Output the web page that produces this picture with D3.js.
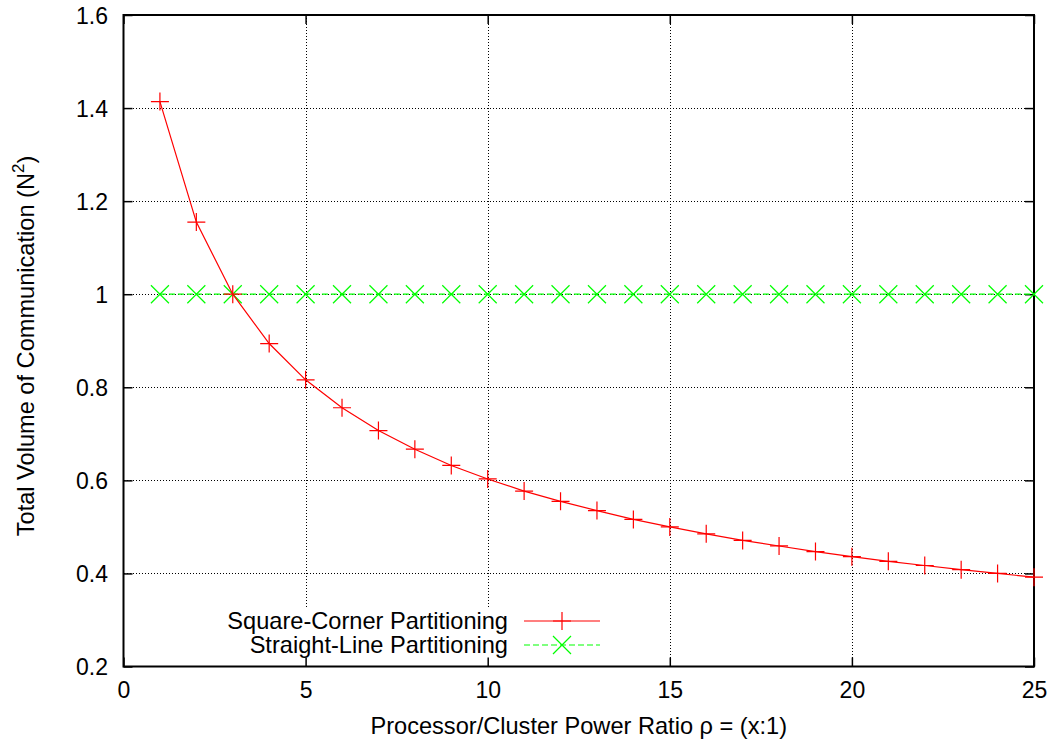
<!DOCTYPE html>
<html>
<head>
<meta charset="utf-8">
<script src="https://cdn.jsdelivr.net/npm/d3@7"></script>
<style>
  html, body { margin: 0; padding: 0; background: #fff; }
  svg { display: block; }
  text { font-family: "Liberation Sans", Arial, Helvetica, sans-serif; fill: #000; }
</style>
</head>
<body>
<svg id="chart" width="1055" height="741"></svg>
<script>
// Processor/cluster power ratio values (x axis)
const ratios = [1, 2, 3, 4, 5, 6, 7, 8, 9, 10, 11, 12, 13, 14, 15, 16, 17, 18, 19, 20, 21, 22, 23, 24, 25];
// Total volume of communication, square-corner partitioning
const squareCorner = [1.414, 1.155, 1.0, 0.894, 0.816, 0.756, 0.707, 0.667, 0.632, 0.603, 0.577, 0.555, 0.535, 0.516, 0.5, 0.485, 0.471, 0.459, 0.447, 0.436, 0.426, 0.417, 0.408, 0.4, 0.392];
// Total volume of communication, straight-line partitioning
const straightLine = [1, 1, 1, 1, 1, 1, 1, 1, 1, 1, 1, 1, 1, 1, 1, 1, 1, 1, 1, 1, 1, 1, 1, 1, 1];
// Axis ticks
const xTicks = [0, 5, 10, 15, 20, 25];
const yTicks = [0.2, 0.4, 0.6, 0.8, 1.0, 1.2, 1.4, 1.6];
const seriesNames = ["Square-Corner Partitioning", "Straight-Line Partitioning"];

const svg = d3.select("#chart");
const pL = 123.5, pR = 1034, pT = 15, pB = 666.5;
const fs = 23;
const fsLabel = 23.6;

const x = d3.scaleLinear().domain([0, 25]).range([pL, pR]);
const y = d3.scaleLinear().domain([0.2, 1.6]).range([pB, pT]);

svg.append("rect").attr("width", 1055).attr("height", 741).attr("fill", "#fff");

// Dotted grid
const grid = svg.append("g").attr("stroke", "#000").attr("stroke-width", 1)
  .attr("stroke-dasharray", "1,2").attr("shape-rendering", "crispEdges");
xTicks.filter(d => d > 0 && d < 25).forEach(d => {
  grid.append("line").attr("x1", Math.round(x(d)) + 0.5).attr("x2", Math.round(x(d)) + 0.5)
    .attr("y1", pB).attr("y2", pT);
});
yTicks.filter(d => d > 0.2 && d < 1.6).forEach(d => {
  grid.append("line").attr("y1", Math.round(y(d)) + 0.5).attr("y2", Math.round(y(d)) + 0.5)
    .attr("x1", pL).attr("x2", pR);
});

// Key background blanks the grid behind it
svg.append("rect").attr("x", 215).attr("y", 608).attr("width", 395).attr("height", pB - 608)
  .attr("fill", "#fff");

// Axes with inward ticks, mirrored on top and right
const tickLen = 9;
const fmt = d => (d === 1 ? "1" : d3.format(".1f")(d));
const xAxisB = d3.axisBottom(x).tickValues(xTicks).tickSize(-tickLen).tickFormat(d3.format("d"));
const xAxisT = d3.axisTop(x).tickValues(xTicks).tickSize(-tickLen).tickFormat("");
const yAxisL = d3.axisLeft(y).tickValues(yTicks).tickSize(-tickLen).tickFormat(fmt);
const yAxisR = d3.axisRight(y).tickValues(yTicks).tickSize(-tickLen).tickFormat("");

function styleAxis(g) {
  g.select(".domain").remove();
  g.selectAll(".tick line").attr("stroke", "#000").attr("stroke-width", 1.5);
  g.selectAll(".tick text").attr("font-size", fs).attr("font-family", "'Liberation Sans', Arial, sans-serif").attr("fill", "#000");
}
svg.append("g").attr("transform", `translate(0,${pB})`).call(xAxisB).call(styleAxis)
  .selectAll(".tick text").attr("y", 698 - pB).attr("dy", null);
svg.append("g").attr("transform", `translate(0,${pT})`).call(xAxisT).call(styleAxis);
svg.append("g").attr("transform", `translate(${pL},0)`).call(yAxisL).call(styleAxis)
  .selectAll(".tick text").attr("x", 108 - pL).attr("dy", "0.36em");
svg.append("g").attr("transform", `translate(${pR},0)`).call(yAxisR).call(styleAxis);

// Frame
svg.append("rect").attr("x", pL).attr("y", pT).attr("width", pR - pL).attr("height", pB - pT)
  .attr("fill", "none").attr("stroke", "#000").attr("stroke-width", 2);

const red = "#ff0000", green = "#00ff00";
const line = d3.line().x(d => x(d[0])).y(d => y(d[1]));
const sq = ratios.map((r, i) => [r, squareCorner[i]]);
const st = ratios.map((r, i) => [r, straightLine[i]]);

function plus(g, cx, cy, s) {
  g.append("path").attr("d", `M${cx - s},${cy}H${cx + s}M${cx},${cy - s}V${cy + s}`);
}
function cross(g, cx, cy, s) {
  g.append("path").attr("d", `M${cx - s},${cy - s}L${cx + s},${cy + s}M${cx - s},${cy + s}L${cx + s},${cy - s}`);
}

// Straight-line series
svg.append("path").datum(st).attr("d", line).attr("fill", "none").attr("stroke", green)
  .attr("stroke-width", 1.2).attr("stroke-dasharray", "6,3");
const gx = svg.append("g").attr("stroke", green).attr("stroke-width", 1.2).attr("fill", "none");
st.forEach(d => cross(gx, x(d[0]), y(d[1]), 9));

// Square-corner series
svg.append("path").datum(sq).attr("d", line).attr("fill", "none").attr("stroke", red).attr("stroke-width", 1.2);
const gp = svg.append("g").attr("stroke", red).attr("stroke-width", 1.2).attr("fill", "none");
sq.forEach(d => plus(gp, x(d[0]), y(d[1]), 9));

// Key
const key = svg.append("g");
const keyRows = [
  { name: seriesNames[0], color: red, dash: null, mark: plus, cy: 621 },
  { name: seriesNames[1], color: green, dash: "6,3", mark: cross, cy: 645 }
];
keyRows.forEach(k => {
  key.append("text").attr("x", 508).attr("y", k.cy + 7.5).attr("text-anchor", "end")
    .attr("font-size", fsLabel).text(k.name);
  key.append("line").attr("x1", 524).attr("x2", 600).attr("y1", k.cy).attr("y2", k.cy)
    .attr("stroke", k.color).attr("stroke-width", 1.2).attr("stroke-dasharray", k.dash);
  const m = key.append("g").attr("stroke", k.color).attr("stroke-width", 1.2);
  k.mark(m, 562, k.cy, 9);
});

// Axis titles
svg.append("text").attr("x", (pL + pR) / 2).attr("y", 734).attr("text-anchor", "middle")
  .attr("font-size", fsLabel).text("Processor/Cluster Power Ratio ρ = (x:1)");

const yt = svg.append("text").attr("transform", "translate(34,346) rotate(-90)")
  .attr("text-anchor", "middle").attr("font-size", fsLabel);
yt.append("tspan").text("Total Volume of Communication (N");
yt.append("tspan").attr("font-size", 17).attr("dy", -10).text("2");
yt.append("tspan").attr("dy", 10).text(")");
</script>
</body>
</html>
